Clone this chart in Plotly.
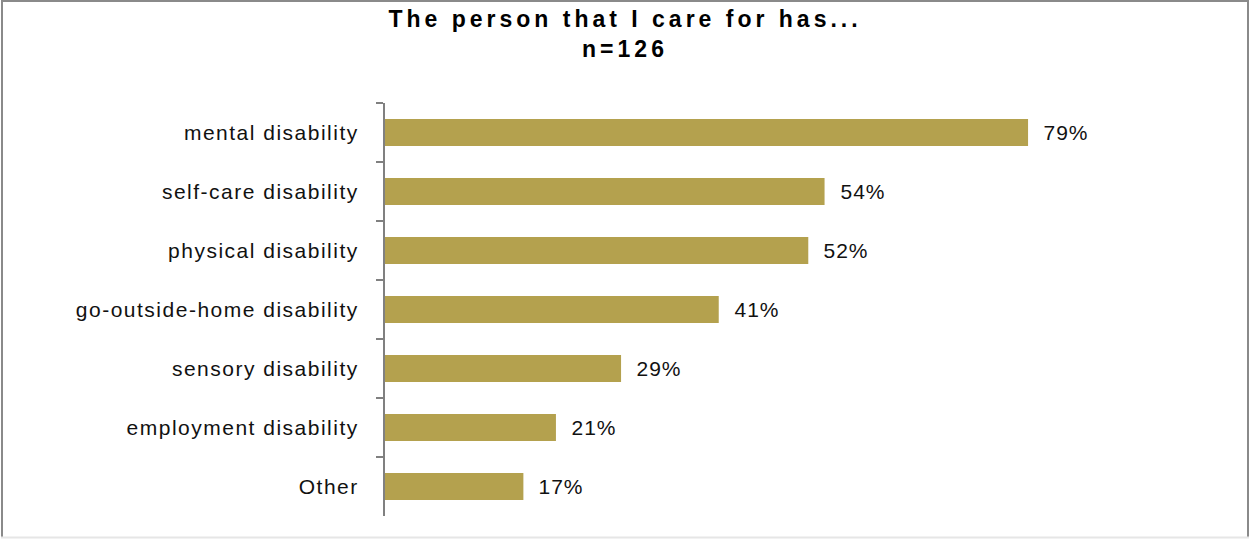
import plotly.graph_objects as go

categories = ["mental disability", "self-care disability", "physical disability",
              "go-outside-home disability", "sensory disability",
              "employment disability", "Other"]
values = [79, 54, 52, 41, 29, 21, 17]
value_labels = ["79%", "54%", "52%", "41%", "29%", "21%", "17%"]

W, H = 1250, 539
L, R, T, B = 385, 51, 103, 23
pw, ph = W - L - R, H - T - B
FONT = "Liberation Sans, Arial, sans-serif"


def px_x(x):
    return (x - L) / pw


def px_y(y):
    return (H - B - y) / ph


fig = go.Figure()
fig.add_trace(go.Bar(
    x=values, y=categories, orientation="h",
    marker=dict(color="#B4A14E", line=dict(width=0)),
    hoverinfo="skip",
))

for v, c, t in zip(values, categories, value_labels):
    fig.add_annotation(x=v, y=c, text=t, showarrow=False, xanchor="left",
                       xshift=15, font=dict(family=FONT, size=21, color="#111"))

# outer frame
frame = dict(type="line", xref="paper", yref="paper", layer="below")
fig.add_shape(**frame, x0=px_x(2), x1=px_x(2), y0=px_y(538), y1=px_y(0),
              line=dict(color="#8a8a8a", width=2))
fig.add_shape(**frame, x0=px_x(1), x1=px_x(1249), y0=px_y(1), y1=px_y(1),
              line=dict(color="#8a8a8a", width=2))
fig.add_shape(**frame, x0=px_x(1248), x1=px_x(1248), y0=px_y(538), y1=px_y(0),
              line=dict(color="#8a8a8a", width=2))
fig.add_shape(**frame, x0=px_x(1), x1=px_x(1249), y0=px_y(537.5), y1=px_y(537.5),
              line=dict(color="#e6e6e6", width=2))

fig.update_layout(
    width=W, height=H,
    margin=dict(l=L, r=R, t=T, b=B),
    paper_bgcolor="white", plot_bgcolor="white",
    bargap=0.54,
    showlegend=False,
    title=dict(text="<b>The person that I care for has...<br>n=126</b>",
               x=0.5, xanchor="center", yref="container", y=1 - 27 / H, yanchor="top",
               font=dict(family=FONT, size=23, color="#000")),
    xaxis=dict(range=[0, 100], visible=False, fixedrange=True),
    yaxis=dict(autorange="reversed", showline=True, linecolor="#808080", linewidth=2,
               ticks="outside", tickson="boundaries", ticklen=7, tickcolor="#808080",
               tickwidth=2, showgrid=False, ticklabelstandoff=20, fixedrange=True,
               tickfont=dict(family=FONT, size=21, color="#111")),
)

post = """
document.body.style.margin = '0';
var st = document.createElement('style');
st.textContent = '.ytick text{letter-spacing:1.5px;} .annotation-text{letter-spacing:1px;} .gtitle{letter-spacing:4px;}';
document.head.appendChild(st);
"""

fig.write_html("out.html", post_script=post, config={"displayModeBar": False})
